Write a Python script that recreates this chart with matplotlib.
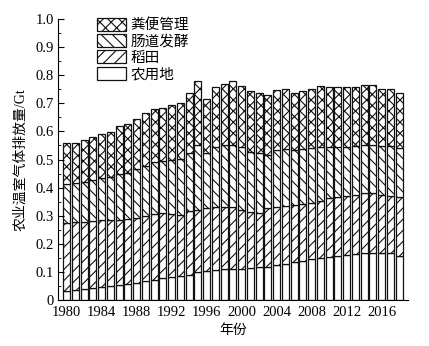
import matplotlib
matplotlib.use("Agg")
import matplotlib.pyplot as plt
import numpy as np

plt.rcParams['font.family'] = ['Liberation Serif', 'Noto Sans CJK SC']
plt.rcParams['hatch.linewidth'] = 0.8
plt.rcParams['axes.unicode_minus'] = False

years = list(range(1980, 2019))

# emissions by source, Gt
land = [0.033, 0.035, 0.038, 0.043, 0.045, 0.050, 0.053, 0.057, 0.059, 0.068,
        0.071, 0.077, 0.081, 0.085, 0.089, 0.100, 0.104, 0.107, 0.109, 0.110,
        0.111, 0.114, 0.116, 0.118, 0.124, 0.128, 0.136, 0.140, 0.145, 0.148,
        0.152, 0.157, 0.159, 0.164, 0.166, 0.166, 0.166, 0.166, 0.157]
rice = [0.240, 0.241, 0.238, 0.237, 0.239, 0.233, 0.232, 0.230, 0.232, 0.231,
        0.235, 0.231, 0.225, 0.217, 0.229, 0.220, 0.222, 0.225, 0.223, 0.220,
        0.209, 0.200, 0.195, 0.208, 0.208, 0.206, 0.202, 0.202, 0.201, 0.205,
        0.210, 0.211, 0.211, 0.210, 0.214, 0.214, 0.208, 0.204, 0.211]
enteric = [0.140, 0.139, 0.144, 0.146, 0.149, 0.153, 0.163, 0.166, 0.174, 0.178,
           0.186, 0.188, 0.192, 0.199, 0.204, 0.230, 0.198, 0.214, 0.218, 0.220,
           0.223, 0.214, 0.211, 0.190, 0.202, 0.202, 0.196, 0.194, 0.194, 0.190,
           0.184, 0.178, 0.176, 0.174, 0.171, 0.171, 0.174, 0.178, 0.172]
manure = [0.147, 0.145, 0.150, 0.153, 0.158, 0.163, 0.171, 0.172, 0.178, 0.187,
          0.186, 0.186, 0.196, 0.201, 0.216, 0.230, 0.192, 0.211, 0.219, 0.229,
          0.217, 0.217, 0.216, 0.214, 0.213, 0.215, 0.204, 0.209, 0.212, 0.218,
          0.213, 0.211, 0.213, 0.211, 0.213, 0.213, 0.202, 0.202, 0.195]

labels = ['农用地', '稻田', '肠道发酵', '粪便管理']
hatches = ['', '///', '\\\\\\', 'xxx']

fig = plt.figure(figsize=(4.29, 3.46), dpi=100)
ax = fig.add_axes([0.135, 0.133, 0.816, 0.812])

series = [land, rice, enteric, manure]
bottom = np.zeros(len(years))
for vals, lab, h in zip(series, labels, hatches):
    ax.bar(years, vals, width=0.8, bottom=bottom, color='white',
           edgecolor='#111111', linewidth=0.9, hatch=h, label=lab)
    bottom += np.array(vals)

ax.set_xlim(1979, 2019)
ax.set_ylim(0, 1.0)
ax.set_xticks(range(1980, 2017, 4))
ax.set_yticks(np.arange(0, 1.01, 0.1))
ax.set_yticklabels(['0'] + [f'{v:.1f}' for v in np.arange(0.1, 1.01, 0.1)])
ax.set_yticks(np.arange(0.05, 1.0, 0.1), minor=True)
ax.tick_params(axis='y', direction='in', length=4, labelsize=10.5, pad=3)
ax.tick_params(axis='y', which='minor', direction='in', length=2)
ax.tick_params(axis='x', direction='in', length=0, labelsize=10.5, pad=4)

for s in ['top', 'right']:
    ax.spines[s].set_visible(False)

ax.set_ylabel('农业温室气体排放量/Gt', fontsize=10, labelpad=6)
ax.set_xlabel('年份', fontsize=10, labelpad=4)

handles, labs = ax.get_legend_handles_labels()
ax.legend(handles[::-1], labs[::-1], loc='upper left', bbox_to_anchor=(0.09, 1.03),
          frameon=False, fontsize=10.5, handlelength=2.0, handleheight=1.0,
          labelspacing=0.12, handletextpad=0.3, borderpad=0)

fig.savefig('out.png', dpi=100)
